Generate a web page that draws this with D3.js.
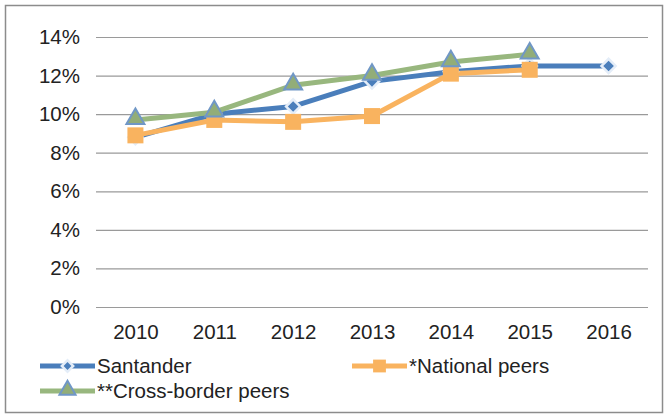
<!DOCTYPE html>
<html>
<head>
<meta charset="utf-8">
<script src="https://cdn.jsdelivr.net/npm/d3@7"></script>
<style>
  body { margin: 0; background: #fff; }
  svg { font-family: 'Liberation Sans', Arial, sans-serif; }
</style>
</head>
<body>
<div id="chart"></div>
<script>
const years = ['2010', '2011', '2012', '2013', '2014', '2015', '2016']
const santander = [8.8, 10.0, 10.4, 11.7, 12.2, 12.5, 12.5]
const nationalPeers = [8.9, 9.7, 9.6, 9.9, 12.1, 12.3]
const crossBorderPeers = [9.7, 10.1, 11.5, 12.0, 12.7, 13.1]
const yTicks = [0, 2, 4, 6, 8, 10, 12, 14]

const series = [
  { name: 'Santander', values: santander, color: '#4A7EBB', marker: 'diamond' },
  { name: '*National peers', values: nationalPeers, color: '#F9B35F', marker: 'square' },
  { name: '**Cross-border peers', values: crossBorderPeers, color: '#98B77E', marker: 'triangle' }
]

const width = 671, height = 416
const margin = { top: 37, right: 23, bottom: 109, left: 96 }

const svg = d3.select('#chart').append('svg')
    .attr('width', width)
    .attr('height', height)

// outer frame
svg.append('rect')
    .attr('x', 5.5).attr('y', 5.5)
    .attr('width', 657).attr('height', 407)
    .attr('fill', '#fff')
    .attr('stroke', '#8c8c8c')
    .attr('stroke-width', 1.5)

const x = d3.scalePoint().domain(years).range([margin.left, width - margin.right]).padding(0.5)
const y = d3.scaleLinear().domain([0, 14]).range([height - margin.bottom, margin.top])

// gridlines + y labels
const yAxis = svg.append('g')
    .attr('transform', 'translate(' + margin.left + ',0)')
    .call(d3.axisLeft(y).tickValues(yTicks).tickSize(-(width - margin.left - margin.right)).tickFormat(d => d + '%').tickPadding(16))
yAxis.select('.domain').remove()
yAxis.selectAll('.tick line').attr('stroke', '#9a9a9a').attr('stroke-width', 1.2)
yAxis.selectAll('.tick text').attr('font-size', 20.5).attr('fill', '#222')

// x labels
const xAxis = svg.append('g')
    .attr('transform', 'translate(0,' + y(0) + ')')
    .call(d3.axisBottom(x).tickSize(0).tickPadding(17))
xAxis.select('.domain').remove()
xAxis.selectAll('.tick text').attr('font-size', 20.5).attr('fill', '#222')

const line = d3.line()
    .x((d, i) => x(years[i]))
    .y(d => y(d))

function drawMarker(g, kind, cx, cy, color, scale) {
  if (kind === 'diamond') {
    const s = 10 * scale
    g.append('rect')
        .attr('x', -s / 2).attr('y', -s / 2)
        .attr('width', s).attr('height', s)
        .attr('transform', 'translate(' + cx + ',' + cy + ') rotate(45)')
        .attr('fill', color)
        .attr('stroke', '#e4edf8')
        .attr('stroke-width', 2.5)
  } else if (kind === 'square') {
    const s = 16 * scale
    g.append('rect')
        .attr('x', cx - s / 2).attr('y', cy - s / 2)
        .attr('width', s).attr('height', s)
        .attr('fill', color)
  } else {
    g.append('path')
        .attr('d', d3.symbol(d3.symbolTriangle, 140 * scale)())
        .attr('transform', 'translate(' + cx + ',' + (cy - 1) + ')')
        .attr('fill', '#92ad78')
        .attr('stroke', '#7097c6')
        .attr('stroke-width', 2)
  }
}

const plot = svg.append('g')
for (const s of series) {
  plot.append('path')
      .datum(s.values)
      .attr('fill', 'none')
      .attr('stroke', s.color)
      .attr('stroke-width', 5)
      .attr('stroke-linejoin', 'round')
      .attr('d', line)
}
for (const s of series) {
  s.values.forEach((v, i) => drawMarker(plot, s.marker, x(years[i]), y(v), s.color, 1))
}

// legend
const legendPos = [
  { x: 40, y: 366 },
  { x: 352, y: 366 },
  { x: 40, y: 391 }
]
series.forEach((s, i) => {
  const p = legendPos[i]
  const g = svg.append('g')
  g.append('line')
      .attr('x1', p.x).attr('x2', p.x + 55)
      .attr('y1', p.y).attr('y2', p.y)
      .attr('stroke', s.color)
      .attr('stroke-width', 5)
  drawMarker(g, s.marker, p.x + 27.5, p.y, s.color, 0.8)
  g.append('text')
      .attr('x', p.x + 57).attr('y', p.y)
      .attr('dy', '0.35em')
      .attr('font-size', 20.5)
      .attr('fill', '#222')
      .text(s.name)
})
</script>
</body>
</html>
